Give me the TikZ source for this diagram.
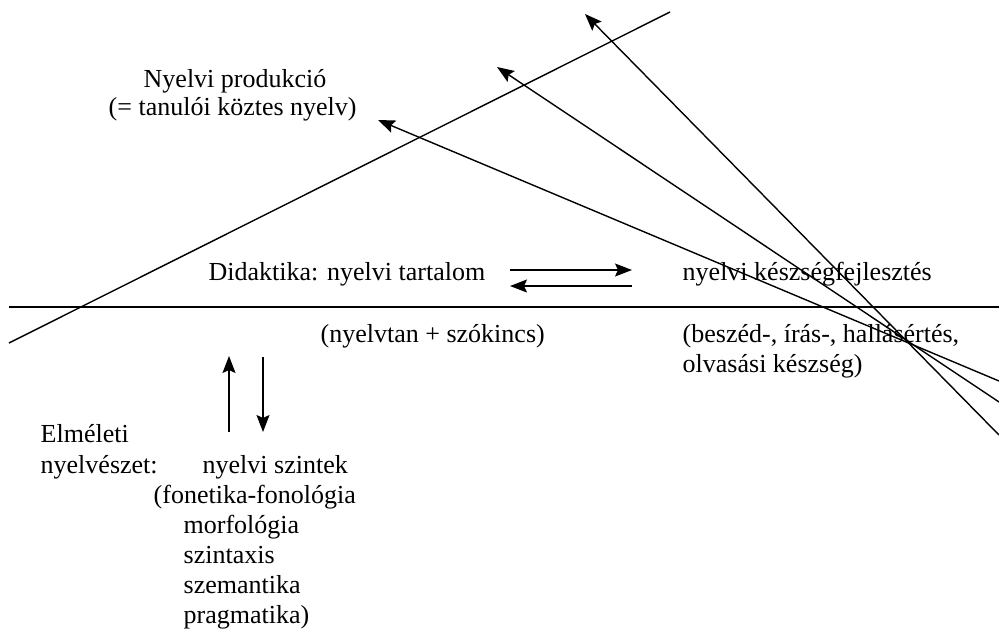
\documentclass[tikz,border=0pt]{standalone}
\usepackage{fontspec}
\setmainfont{Liberation Serif}
\usepackage{tikz}
\usetikzlibrary{arrows.meta,positioning,calc}

\begin{document}
\begin{tikzpicture}[x=0.5pt, y=-0.5pt, line width=0.7pt, >={Stealth[length=8.5pt,width=6.5pt,inset=1.5pt]},
  txt/.style={anchor=base west, inner sep=0pt, font=\fontsize{13pt}{15pt}\selectfont}]
\useasboundingbox (0,0) rectangle (999,637);

% texts
\node (prod) [txt] at (143,87) {Nyelvi produkció};
\node (kozt) [txt] at (108,115) {(= tanulói köztes nyelv)};
\node (didakt) [txt] at (208,280) {Didaktika: nyelvi tartalom};
\node (keszseg) [txt] at (682,280) {nyelvi készségfejlesztés};
\node (nyelvtan) [txt] at (320,342) {(nyelvtan + szókincs)};
\node (beszed) [txt] at (682,342) {(beszéd-, írás-, hallásértés,};
\node (olvas) [txt] at (682,372) {olvasási készség)};
\node (elm) [txt] at (40,442) {Elméleti};
\node (nyesz) [txt] at (40,473) {nyelvészet:};
\node (szintek) [txt] at (202,473) {nyelvi szintek};
\node (fon) [txt] at (153,503) {(fonetika-fonológia};
\node (morf) [txt] at (183,533) {morfológia};
\node (szint) [txt] at (183,563) {szintaxis};
\node (szem) [txt] at (183,593) {szemantika};
\node (prag) [txt] at (183,623) {pragmatika)};

% line ends
\coordinate (hl) at (9,307);
\coordinate (hr) at (999,307);
\coordinate (dl) at (9,343);
\coordinate (dr) at (670,12);
\coordinate (a1) at (999,381);
\coordinate (a2) at (999,402);
\coordinate (a3) at (999,435);
\coordinate (t1) at (378,120);
\coordinate (t2) at (497,67);
\coordinate (t3) at (585,14);
\coordinate (r1) at (510,270);
\coordinate (r2) at (632,270);
\coordinate (l1) at (632,286);
\coordinate (l2) at (510,286);
\coordinate (u1) at (229,432);
\coordinate (u2) at (229,356);
\coordinate (d1) at (263,357);
\coordinate (d2) at (263,432);

\draw (hl) -- (hr);
\draw (dl) -- (dr);
\draw[->] (a1) -- (t1);
\draw[->] (a2) -- (t2);
\draw[->] (a3) -- (t3);
\draw[->] (r1) -- (r2);
\draw[->] (l1) -- (l2);
\draw[->] (u1) -- (u2);
\draw[->] (d1) -- (d2);

\end{tikzpicture}
\end{document}
